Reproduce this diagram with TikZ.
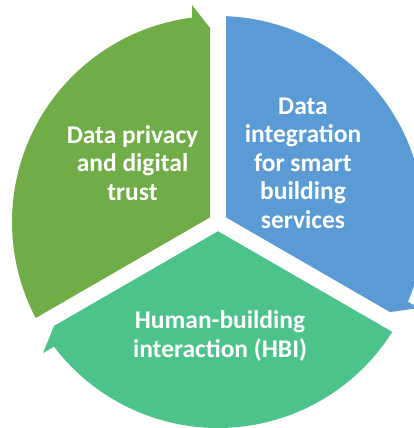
\documentclass[tikz,border=0pt]{standalone}
\usepackage{fontspec}
\setmainfont{Carlito}
\definecolor{privgreen}{HTML}{70AD47}
\definecolor{intblue}{HTML}{5B9BD5}
\definecolor{hbiteal}{HTML}{4CC38B}
\tikzset{
  seglabel/.style={text=white, font=\bfseries\fontsize{25.5}{28.5}\selectfont, align=center}
}
\begin{document}
\begin{tikzpicture}[x=1pt,y=1pt]
\tikzstyle{every node}+=[inner sep=0pt]
\useasboundingbox (-218,-206) rectangle (196,222);
\fill [privgreen, rotate=90] (4.62,8) -- (194,8) -- (217,26) -- (7.25:206) arc [start angle=7.25, end angle=117.77, radius=206] -- cycle;
\fill [intblue, rotate=-30] (4.62,8) -- (194,8) -- (217,26) -- (7.25:206) arc [start angle=7.25, end angle=117.77, radius=206] -- cycle;
\fill [hbiteal, rotate=210] (4.62,8) -- (194,8) -- (217,26) -- (7.25:206) arc [start angle=7.25, end angle=117.77, radius=206] -- cycle;
\node [seglabel] (privacy) at (-85.5,59) {Data privacy\\and digital\\trust};
\node [seglabel] (integration) at (85,59) {Data\\integration\\for smart\\building\\services};
\node [seglabel] (hbi) at (2,-114) {Human-building\\interaction (HBI)};
\end{tikzpicture}
\end{document}
